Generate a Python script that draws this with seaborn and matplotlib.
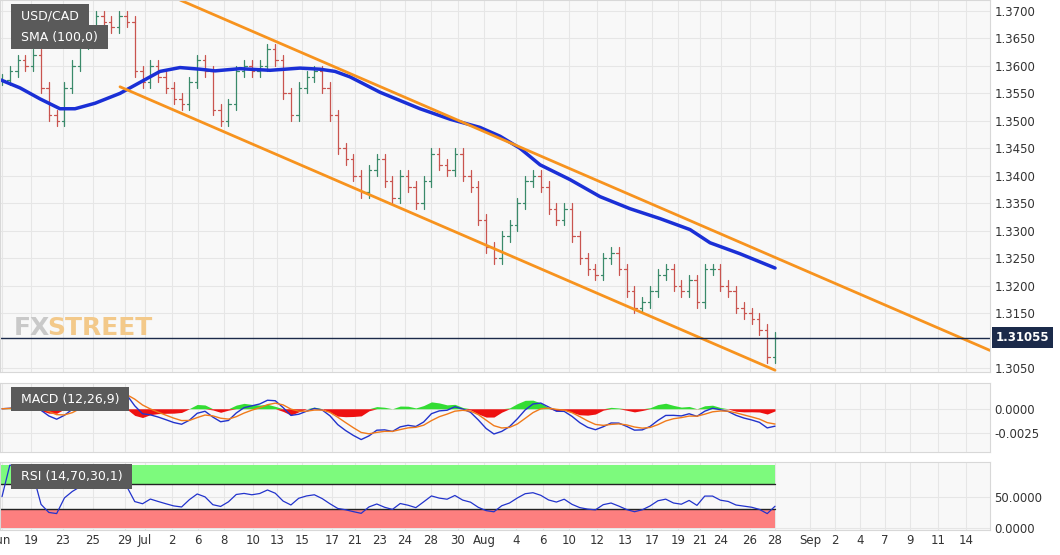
import numpy as np
import pandas as pd
import seaborn as sns
import matplotlib.pyplot as plt
from matplotlib.patches import Rectangle

# closes (coarsened), Jun 18 -> Aug 28
closes = [1.3575, 1.3590, 1.3610, 1.3600, 1.3620, 1.3560, 1.3510, 1.3500, 1.3560, 1.3600,
          1.3640, 1.3660, 1.3690, 1.3680, 1.3670, 1.3690, 1.3680, 1.3590, 1.3570, 1.3600,
          1.3580, 1.3560, 1.3540, 1.3530, 1.3570, 1.3610, 1.3590, 1.3520, 1.3500, 1.3530,
          1.3590, 1.3600, 1.3590, 1.3600, 1.3630, 1.3610, 1.3550, 1.3510, 1.3560, 1.3580,
          1.3590, 1.3560, 1.3510, 1.3450, 1.3430, 1.3400, 1.3370, 1.3410, 1.3430, 1.3390,
          1.3360, 1.3400, 1.3380, 1.3350, 1.3390, 1.3440, 1.3420, 1.3410, 1.3440, 1.3400,
          1.3380, 1.3320, 1.3270, 1.3250, 1.3290, 1.3310, 1.3350, 1.3390, 1.3400, 1.3380,
          1.3340, 1.3320, 1.3340, 1.3290, 1.3250, 1.3230, 1.3220, 1.3250, 1.3260, 1.3230,
          1.3190, 1.3160, 1.3170, 1.3190, 1.3220, 1.3230, 1.3200, 1.3190, 1.3210, 1.3170,
          1.3230, 1.3230, 1.3200, 1.3190, 1.3160, 1.3150, 1.3140, 1.3120, 1.3070, 1.31055]
wick = 0.0010

sma_x = [0, 20, 40, 60, 75, 95, 120, 140, 160, 180, 200, 215, 240, 270, 300, 320, 335,
         350, 380, 420, 450, 480, 500, 520, 540, 570, 600, 630, 660, 690, 710, 740, 775]
sma_y = [1.3575, 1.3560, 1.3540, 1.3522, 1.3522, 1.3532, 1.3550, 1.3570, 1.3590, 1.3597,
         1.3594, 1.3591, 1.3595, 1.3592, 1.3596, 1.3594, 1.3590, 1.3580, 1.3552, 1.3522,
         1.3503, 1.3488, 1.3472, 1.3450, 1.3420, 1.3393, 1.3362, 1.3340, 1.3322, 1.3302,
         1.3278, 1.3258, 1.3232]

upper_x, upper_y = [180, 990], [1.3720, 1.3082]
lower_x, lower_y = [120, 775], [1.3562, 1.3046]

last_price = 1.31055
price_ticks = [1.3050, 1.3150, 1.3200, 1.3250, 1.3300, 1.3350, 1.3400, 1.3450,
               1.3500, 1.3550, 1.3600, 1.3650, 1.3700]
date_pos = [2, 31, 63, 93, 125, 145, 172, 198, 224, 253, 277, 302, 332, 355, 380, 405,
            431, 458, 484, 516, 543, 569, 597, 625, 652, 678, 700, 721, 750, 775, 810,
            835, 860, 885, 910, 938, 966]
date_labels = ['Jun', '19', '23', '25', '29', 'Jul', '2', '6', '8', '10', '13', '15', '17',
               '21', '23', '24', '28', '30', 'Aug', '4', '6', '10', '12', '13', '17', '19',
               '21', '24', '26', '28', 'Sep', '2', '4', '7', '9', '11', '14']

sns.set_style('whitegrid', {'axes.facecolor': '#f8f8f8', 'grid.color': '#e6e6e6'})
plt.rcParams['font.family'] = ['DejaVu Sans']

df = pd.DataFrame({'x': np.linspace(2, 775, len(closes)), 'close': closes})
df['open'] = df['close'].shift(1).fillna(df['close'])
df['high'] = df[['open', 'close']].max(axis=1) + wick
df['low'] = df[['open', 'close']].min(axis=1) - wick

# indicators from the coarse closes (spans scaled for ~3x coarser bars)
c = df['close']
macd = (c.ewm(span=5).mean() - c.ewm(span=10).mean()) * 0.7
signal = macd.ewm(span=4).mean()
hist = macd - signal
diff = c.diff()
up = diff.clip(lower=0).ewm(alpha=1 / 9).mean()
dn = (-diff.clip(upper=0)).ewm(alpha=1 / 9).mean()
rsi = (100 - 100 / (1 + up / dn.replace(0, 1e-9))).fillna(50)

fig = plt.figure(figsize=(10.6, 5.55), dpi=100)
ax = fig.add_axes([0, 0.33, 0.934, 0.67])
ax_m = fig.add_axes([0, 0.186, 0.934, 0.124])
ax_r = fig.add_axes([0, 0.045, 0.934, 0.1225])

# price panel
for _, r in df.iterrows():
    col = '#3a8a6a' if r['close'] >= r['open'] else '#c9544f'
    ax.plot([r['x'], r['x']], [r['low'], r['high']], color=col, lw=0.9)
    ax.plot([r['x'] - 2.5, r['x']], [r['open'], r['open']], color=col, lw=0.9)
    ax.plot([r['x'], r['x'] + 2.5], [r['close'], r['close']], color=col, lw=0.9)
sns.lineplot(x=sma_x, y=sma_y, ax=ax, color='#1a2fd6', lw=2.5)
ax.plot(upper_x, upper_y, color='#f7931e', lw=2)
ax.plot(lower_x, lower_y, color='#f7931e', lw=2)
ax.axhline(last_price, color='#1b2a4a', lw=1)
ax.set_xlim(0, 990)
ax.set_ylim(1.3043, 1.3720)
ax.yaxis.tick_right()
ax.set_yticks(price_ticks)
ax.set_yticklabels([f'{v:.4f}' for v in price_ticks], fontsize=8.5, color='#333')
ax.set_xticks(date_pos)
ax.set_xticklabels([])
ax.text(1.006, (last_price - 1.3043) / (1.3720 - 1.3043), f'{last_price:.5f}',
        transform=ax.transAxes, va='center', ha='left', fontsize=8.5, color='white',
        fontweight='bold', bbox=dict(boxstyle='square,pad=0.3', fc='#1b2a4a', ec='none'))
ax.text(14, 1.3110, 'FX', fontsize=18, color='#c9c9c9', fontweight='bold')
ax.text(47, 1.3110, 'STREET', fontsize=18, color='#f3c98a', fontweight='bold')
ax.text(17, 1.3690, ' USD/CAD ', fontsize=9, color='white', va='center',
        bbox=dict(boxstyle='square,pad=0.45', fc='#5a5a5a', ec='none'))
ax.text(17, 1.3652, ' SMA (100,0) ', fontsize=9, color='white', va='center',
        bbox=dict(boxstyle='square,pad=0.45', fc='#5a5a5a', ec='none'))

# MACD panel
ax_m.fill_between(df['x'], 0, hist.where(hist > 0, 0), color='#33dd33', lw=0)
ax_m.fill_between(df['x'], 0, hist.where(hist < 0, 0), color='#ee1111', lw=0)
sns.lineplot(x=df['x'], y=macd, ax=ax_m, color='#2233cc', lw=1)
sns.lineplot(x=df['x'], y=signal, ax=ax_m, color='#f07a1a', lw=1)
ax_m.set_xlim(0, 990)
ax_m.set_ylim(-0.0045, 0.0027)
ax_m.yaxis.tick_right()
ax_m.set_yticks([-0.0025, 0.0])
ax_m.set_yticklabels(['-0.0025', '0.0000'], fontsize=8.5, color='#333')
ax_m.set_xticks(date_pos)
ax_m.set_xticklabels([])
ax_m.set_ylabel('')
ax_m.text(17, 0.0010, ' MACD (12,26,9) ', fontsize=9, color='white', va='center',
          bbox=dict(boxstyle='square,pad=0.45', fc='#5a5a5a', ec='none'))

# RSI panel
ax_r.add_patch(Rectangle((0, 70), 775, 30, color='#7dfa7d', lw=0))
ax_r.add_patch(Rectangle((0, 0), 775, 30, color='#fd7f7f', lw=0))
ax_r.plot([0, 775], [70, 70], color='#222', lw=1)
ax_r.plot([0, 775], [30, 30], color='#222', lw=1)
sns.lineplot(x=df['x'], y=rsi, ax=ax_r, color='#2233cc', lw=0.9)
ax_r.set_xlim(0, 990)
ax_r.set_ylim(-3, 105)
ax_r.yaxis.tick_right()
ax_r.set_yticks([0, 50])
ax_r.set_yticklabels(['0.0000', '50.0000'], fontsize=8.5, color='#333')
ax_r.set_xticks(date_pos)
ax_r.set_xticklabels(date_labels, fontsize=8.5, color='#333')
ax_r.set_ylabel('')
ax_r.text(17, 82, ' RSI (14,70,30,1) ', fontsize=9, color='white', va='center',
          bbox=dict(boxstyle='square,pad=0.45', fc='#5a5a5a', ec='none'))

for a in (ax, ax_m, ax_r):
    for s in a.spines.values():
        s.set_color('#d8d8d8')
    a.tick_params(length=0, pad=3)

fig.savefig('out.png', dpi=100)
